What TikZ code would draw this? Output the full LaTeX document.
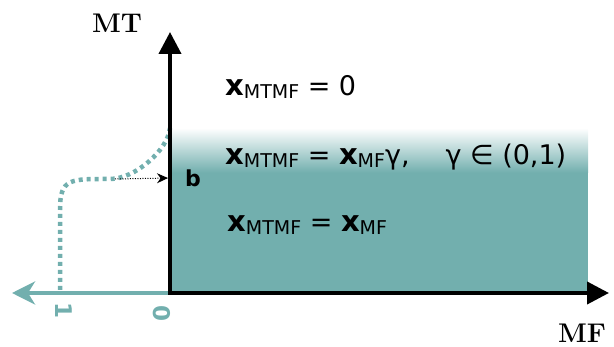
\documentclass[tikz,border=0pt]{standalone}
\usepackage{fontspec}
\newfontfamily\sansdj{DejaVu Sans}
\usetikzlibrary{arrows.meta}
\definecolor{verdeazul}{RGB}{114,175,174}
\newcommand{\subind}[1]{\raisebox{-3pt}{\fontsize{19}{19}\selectfont #1}}
\newcommand{\varx}{{\fontsize{29}{29}\selectfont\bfseries x}}

\begin{document}
\begin{tikzpicture}[x=1pt, y=-1pt,
  eje/.style={line width=4pt, line join=miter,
              {Triangle[length=22pt,width=22pt]}-{Triangle[length=22pt,width=22pt]}},
  ejeneg/.style={draw=verdeazul, line width=4pt,
                 -{Stealth[length=23pt,width=23pt,inset=7pt]}},
  curva/.style={draw=verdeazul, line width=4.5pt, dash pattern=on 4pt off 4pt},
  flechapunt/.style={line width=1pt, dash pattern=on 1pt off 1.5pt,
                     -{Stealth[length=11pt,width=10pt]}, shorten >=2pt},
  formula/.style={anchor=base west, inner sep=0pt,
                  font=\sansdj\fontsize{27}{30}\selectfont},
  etiqueta/.style={text=verdeazul, inner sep=0pt, rotate=-90,
                   font=\sansdj\bfseries\fontsize{23}{23}\selectfont},
  titulo/.style={inner sep=0pt, font=\bfseries\fontsize{27}{27}\selectfont}]
  \useasboundingbox (0,0) rectangle (614,347);
  \coordinate (origen) at (170,293);
  \coordinate (mtfin) at (170,32);
  \coordinate (mffin) at (609,293);
  \coordinate (negfin) at (12,293);
  \fill[verdeazul] (origen) rectangle (588,172);
  \shade[top color=white, bottom color=verdeazul] (170,128) rectangle (588,172.5);
  \coordinate (cini) at (60,290);
  \coordinate (cfin) at (170,128);
  \coordinate (desde) at (115,179);
  \draw[curva] (cini) -- (60,210) .. controls (60,178) and (70,179) .. (110,179)
    .. controls (135,179) and (168,150) .. (cfin);
  \draw[ejeneg] (origen) -- (negfin);
  \draw[eje] (mtfin) -- (origen) -- (mffin);
  \node[titulo] (mt) at (117,23) {MT};
  \node[titulo] (mf) at (582,333) {MF};
  \node[inner sep=0pt, font=\sansdj\bfseries\fontsize{22}{22}\selectfont] (b) at (193,178) {b};
  \draw[flechapunt] (desde) -- (b.west -| origen);
  \node[etiqueta] (uno) at (64,311) {1};
  \node[etiqueta] (cero) at (162,314) {0};
  \node[formula] (linea1) at (225,96) {\varx\subind{MTMF} = 0};
  \node[formula] (linea2) at (225,165)
    {\varx\subind{MTMF} = \varx\subind{MF}γ,\hspace{36pt}γ ∈ (0,1)};
  \node[formula] (linea3) at (227,232) {\varx\subind{MTMF} = \varx\subind{MF}};
\end{tikzpicture}
\end{document}
